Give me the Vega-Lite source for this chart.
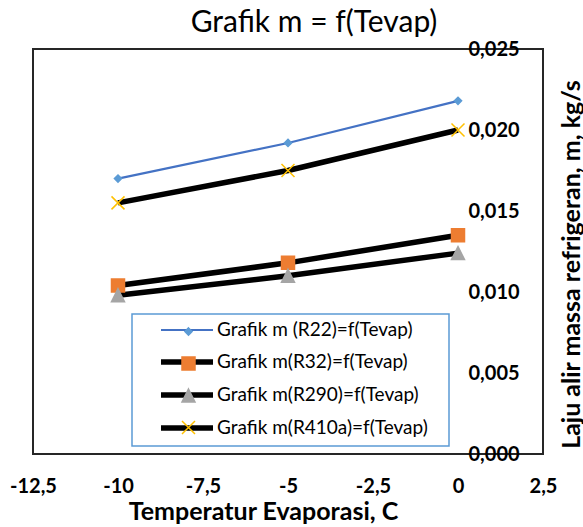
{
  "$schema": "https://vega.github.io/schema/vega-lite/v6.json",
  "width": 510,
  "height": 405,
  "autosize": {"type": "none"},
  "padding": {"left": 33, "top": 49, "right": 40, "bottom": 73},
  "title": {"text": "Grafik m = f(Tevap)", "font": "Lato", "fontSize": 30, "fontWeight": "normal", "color": "#000000", "anchor": "middle", "frame": "group", "baseline": "alphabetic", "offset": -23, "dx": 26},
  "config": {
    "locale": {"number": {"decimal": ",", "thousands": ".", "grouping": [3], "currency": ["", ""], "minus": "-"}},
    "view": {"stroke": "#262626", "strokeWidth": 2},
    "font": "Lato",
    "legend": {"strokeWidth": 1.5}
  },
  "data": {"values": [
    {"s": "Grafik m (R22)=f(Tevap)", "t": -10, "m": 0.0170},
    {"s": "Grafik m (R22)=f(Tevap)", "t": -5, "m": 0.0192},
    {"s": "Grafik m (R22)=f(Tevap)", "t": 0, "m": 0.0218},
    {"s": "Grafik m(R32)=f(Tevap)", "t": -10, "m": 0.0104},
    {"s": "Grafik m(R32)=f(Tevap)", "t": -5, "m": 0.0118},
    {"s": "Grafik m(R32)=f(Tevap)", "t": 0, "m": 0.0135},
    {"s": "Grafik m(R290)=f(Tevap)", "t": -10, "m": 0.0098},
    {"s": "Grafik m(R290)=f(Tevap)", "t": -5, "m": 0.0110},
    {"s": "Grafik m(R290)=f(Tevap)", "t": 0, "m": 0.0124},
    {"s": "Grafik m(R410a)=f(Tevap)", "t": -10, "m": 0.0155},
    {"s": "Grafik m(R410a)=f(Tevap)", "t": -5, "m": 0.0175},
    {"s": "Grafik m(R410a)=f(Tevap)", "t": 0, "m": 0.0200}
  ]},
  "layer": [
    {
      "mark": {"type": "line", "strokeCap": "butt", "strokeJoin": "round"},
      "encoding": {
        "x": {"field": "t", "type": "quantitative", "scale": {"domain": [-12.5, 2.5], "nice": false, "zero": false},
          "axis": {"orient": "bottom", "values": [-12.5, -10, -7.5, -5, -2.5, 0, 2.5], "format": ".1~f", "domain": false, "ticks": false, "grid": false, "labelFlush": false, "labelPadding": 22, "labelFont": "Lato", "labelFontSize": 20, "labelFontWeight": "bold", "labelColor": "#000000",
            "title": "Temperatur Evaporasi, C", "titleFont": "Lato", "titleFontSize": 25, "titleFontWeight": "bold", "titleColor": "#000000", "titleX": 230, "titleY": 65, "titleAlign": "center", "titleBaseline": "alphabetic"}},
        "y": {"field": "m", "type": "quantitative", "scale": {"domain": [0, 0.025], "nice": false},
          "axis": {"orient": "right", "offset": -85, "values": [0, 0.005, 0.01, 0.015, 0.02, 0.025], "format": ".3f", "domain": false, "ticks": false, "grid": false, "labelPadding": 10, "labelFont": "Lato", "labelFontSize": 20, "labelFontWeight": "bold", "labelColor": "#000000", "labelAlign": "left", "labelBaseline": "middle",
            "title": "Laju alir massa refrigeran, m, kg/s", "titleFont": "Lato", "titleFontSize": 25, "titleFontWeight": "bold", "titleColor": "#000000", "titleAngle": 270, "titleX": 121, "titleY": 215, "titleAlign": "center", "titleBaseline": "alphabetic"}},
        "color": {"field": "s", "type": "nominal",
          "scale": {"domain": ["Grafik m (R22)=f(Tevap)", "Grafik m(R32)=f(Tevap)", "Grafik m(R290)=f(Tevap)", "Grafik m(R410a)=f(Tevap)"], "range": ["#4472C4", "#000000", "#000000", "#000000"]},
          "legend": {"orient": "none", "legendX": 99, "legendY": 265, "padding": 6.5, "symbolType": "M-4,0H4", "symbolSize": 169, "symbolOffset": 39, "labelOffset": 20.5, "labelFont": "Lato", "labelFontSize": 19, "labelColor": "#000000", "labelLimit": 400, "rowPadding": 10, "strokeColor": "#5B9BD5", "title": "\u00a0", "titleOrient": "right", "titlePadding": 15, "titleFontSize": 10}},
        "strokeWidth": {"field": "s", "type": "nominal",
          "scale": {"type": "ordinal", "domain": ["Grafik m (R22)=f(Tevap)", "Grafik m(R32)=f(Tevap)", "Grafik m(R290)=f(Tevap)", "Grafik m(R410a)=f(Tevap)"], "range": [2.2, 5.5, 5.5, 5.5]},
          "legend": {"orient": "none", "legendX": 99, "legendY": 265, "padding": 6.5, "symbolType": "M-4,0H4", "symbolSize": 169, "symbolOffset": 39, "labelOffset": 20.5, "labelFont": "Lato", "labelFontSize": 19, "labelColor": "#000000", "labelLimit": 400, "rowPadding": 10, "strokeColor": "#5B9BD5", "title": "\u00a0", "titleOrient": "right", "titlePadding": 15, "titleFontSize": 10}}
      }
    },
    {
      "mark": {"type": "point", "filled": true, "size": 169, "strokeWidth": 1.5, "opacity": 1},
      "encoding": {
        "x": {"field": "t", "type": "quantitative"},
        "y": {"field": "m", "type": "quantitative"},
        "shape": {"field": "s", "type": "nominal",
          "scale": {"range": ["M0,-0.55L0.55,0L0,0.55L-0.55,0Z", "M0,-1L1,1L-1,1Z", "square", "M-1,-1L1,1M-1,1L1,-1"]},
          "legend": {"orient": "none", "legendX": 99, "legendY": 265, "values": ["Grafik m (R22)=f(Tevap)", "Grafik m(R32)=f(Tevap)", "Grafik m(R290)=f(Tevap)", "Grafik m(R410a)=f(Tevap)"], "padding": 6.5, "symbolSize": 169, "symbolOffset": 39, "symbolStrokeWidth": 1.5, "labelOffset": 20.5, "labelFont": "Lato", "labelFontSize": 22, "labelOpacity": 0, "labelLimit": 400, "rowPadding": 10, "title": null}},
        "fill": {"field": "s", "type": "nominal",
          "scale": {"range": ["#5B9BD5", "#A5A5A5", "#ED7D31", "#FFC000"]},
          "legend": {"orient": "none", "legendX": 99, "legendY": 265, "values": ["Grafik m (R22)=f(Tevap)", "Grafik m(R32)=f(Tevap)", "Grafik m(R290)=f(Tevap)", "Grafik m(R410a)=f(Tevap)"], "padding": 6.5, "symbolSize": 169, "symbolOffset": 39, "symbolStrokeWidth": 1.5, "labelOffset": 20.5, "labelFont": "Lato", "labelFontSize": 22, "labelOpacity": 0, "labelLimit": 400, "rowPadding": 10, "title": null}},
        "stroke": {"field": "s", "type": "nominal",
          "scale": {"range": ["#5B9BD5", "#A5A5A5", "#ED7D31", "#FFC000"]},
          "legend": {"orient": "none", "legendX": 99, "legendY": 265, "values": ["Grafik m (R22)=f(Tevap)", "Grafik m(R32)=f(Tevap)", "Grafik m(R290)=f(Tevap)", "Grafik m(R410a)=f(Tevap)"], "padding": 6.5, "symbolSize": 169, "symbolOffset": 39, "symbolStrokeWidth": 1.5, "labelOffset": 20.5, "labelFont": "Lato", "labelFontSize": 22, "labelOpacity": 0, "labelLimit": 400, "rowPadding": 10, "title": null}}
      }
    }
  ]
}
